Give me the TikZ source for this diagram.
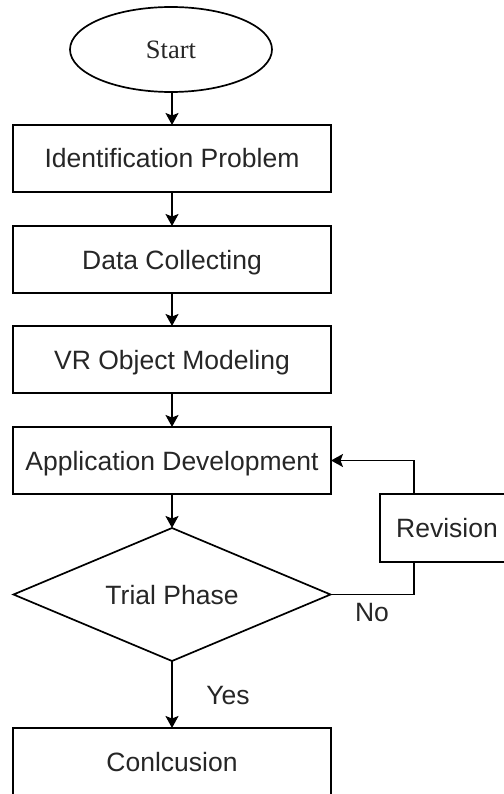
\documentclass[tikz,border=0pt]{standalone}
\usepackage{fontspec}
\setmainfont{Liberation Sans}
\newfontfamily\seriffont{Liberation Serif}
\usetikzlibrary{shapes.geometric,arrows.meta}
\begin{document}
\begin{tikzpicture}[x=1pt,y=-1pt,
  every node/.style={font=\fontsize{26.5}{30}\selectfont, text=black!85, inner sep=0pt, outer sep=0pt},
  procbox/.style={draw=black, line width=1.7pt, rectangle, minimum width=318pt, minimum height=67pt, text height=19pt, text depth=0pt},
  conn/.style={draw=black, line width=1.7pt, -{Stealth[length=12pt,width=13pt,inset=2.5pt]}},
  plain/.style={draw=black, line width=1.7pt}]
\useasboundingbox (0,0) rectangle (503,794);
\node[draw=black, line width=1.7pt, ellipse, minimum width=202pt, minimum height=85pt, text height=17.5pt, text depth=0pt, font=\seriffont\fontsize{26.5}{30}\selectfont] (start) at (171,49.5) {Start};
\node[procbox] (b1) at (172,158.5) {Identification Problem};
\node[procbox] (b2) at (172,259.5) {Data Collecting};
\node[procbox] (b3) at (172,359.5) {VR Object Modeling};
\node[procbox] (b4) at (172,460.5) {Application Development};
\node[draw=black, line width=1.7pt, diamond, aspect=2.38, minimum width=317pt, minimum height=133pt, text height=19pt, text depth=0pt] (dia) at (172,594.5) {Trial Phase};
\node[procbox] (b5) at (172,761.5) {Conlcusion};
\node[procbox, minimum width=134pt, minimum height=68pt] (rev) at (447,528) {Revision};
\coordinate (rx) at (414,0);
\draw[conn] (start.south -| b1.north) -- (b1.north);
\draw[conn] (b1) -- (b2);
\draw[conn] (b2) -- (b3);
\draw[conn] (b3) -- (b4);
\draw[conn] (b4.south) -- (dia.north);
\draw[conn] (dia.south) -- (b5.north);
\draw[plain] (dia.east) -| (rx |- rev.south);
\draw[conn] (rx |- rev.north) |- (b4.east);
\node[text height=19pt, text depth=0pt] (no) at (372,611.5) {No};
\node[text height=19pt, text depth=0pt] (yes) at (228,695) {Yes};
\end{tikzpicture}
\end{document}
